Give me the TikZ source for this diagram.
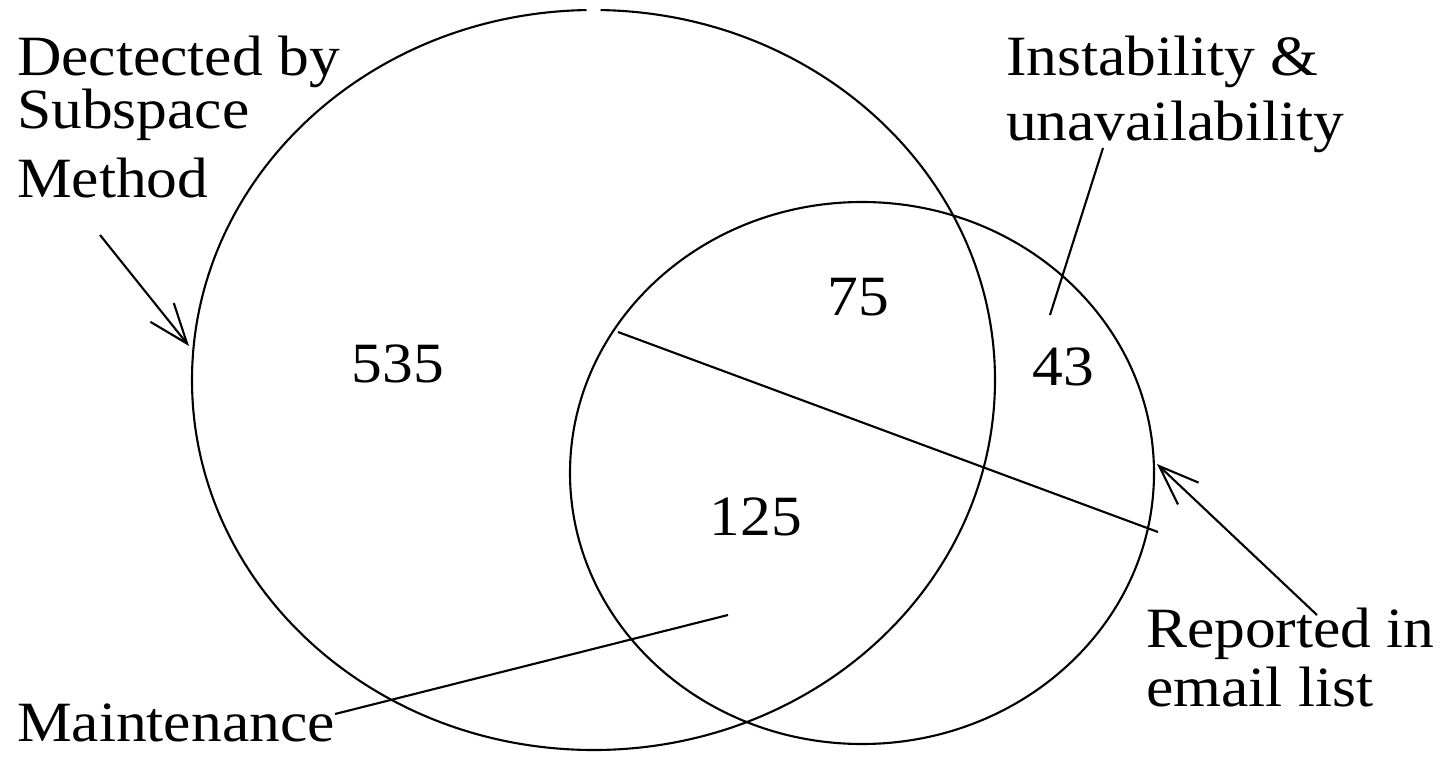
\documentclass[tikz,border=0pt]{standalone}
\usepackage{fontspec}
\setmainfont{Liberation Serif}[FakeStretch=1.08]
\usetikzlibrary{arrows.meta, math}

\begin{document}
\begin{tikzpicture}[x=0.025cm, y=-0.025cm, line width=1.5pt,
  lbl/.style={anchor=base west, inner sep=0pt, font=\fontsize{40.5}{48}\selectfont},
  num/.style={anchor=base, inner sep=0pt, font=\fontsize{40.5}{48}\selectfont},
  barb/.style={-{Straight Barb[length=1cm, width=0.75cm]}}]
\tikzmath{
\rb=401.5; \hb=370;
\rs=292; \hs=271;
}
\useasboundingbox (0,0) rectangle (1448,757);

% the two sets
\coordinate (bigc) at (593.5,380);
\coordinate (smallc) at (862,473);
\draw (bigc) ++(271:401.5 and 370) arc[start angle=271, end angle=629, x radius=\rb, y radius=\hb];
\draw (smallc) ellipse[x radius=\rs, y radius=\hs];

% counts
\node[num] (n535) at (398,382) {535};
\node[num] (n75) at (858,315) {75};
\node[num] (n43) at (1063,385) {43};
\node[num] (n125) at (756,535) {125};

% labels
\node[lbl] (det1) at (16,75) {Dectected by};
\node[lbl] (det2) at (16,128) {Subspace};
\node[lbl] (det3) at (16,197) {Method};
\node[lbl] (inst1) at (1005,75) {Instability \&};
\node[lbl] (inst2) at (1005,140) {unavailability};
\node[lbl] (rep1) at (1145,647) {Reported in};
\node[lbl] (rep2) at (1145,706) {email list};
\node[lbl] (maint) at (16,741) {Maintenance};

% leader lines
\coordinate (detS) at (100,235);
\coordinate (detE) at (189,346);
\coordinate (repS) at (1317,615);
\coordinate (repE) at (1157,464);
\coordinate (instS) at (1103,148);
\coordinate (instE) at (1050,315);
\coordinate (crossS) at (618,332);
\coordinate (crossE) at (1158,532);
\coordinate (maintS) at (335,714);
\coordinate (maintE) at (728,615);

\draw[barb] (detS) -- (detE);
\draw[barb] (repS) -- (repE);
\draw (instS) -- (instE);
\draw (crossS) -- (crossE);
\draw (maintS) -- (maintE);

\end{tikzpicture}
\end{document}
